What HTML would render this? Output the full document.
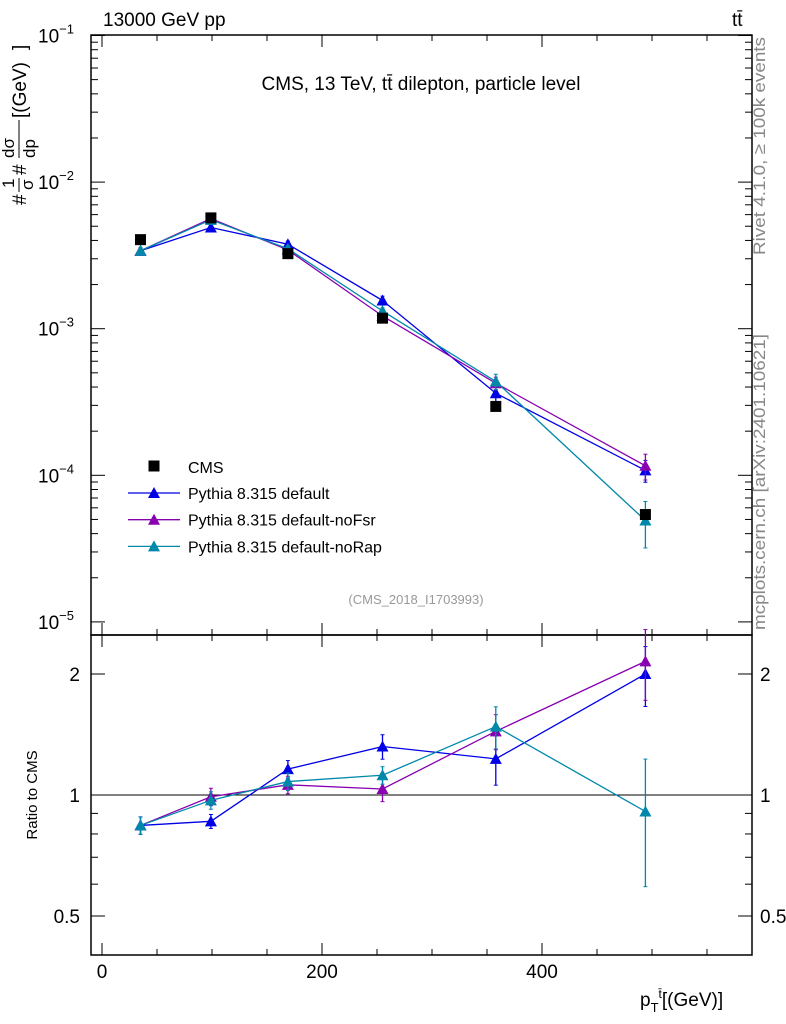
<!DOCTYPE html>
<html><head><meta charset="utf-8"><style>
body{margin:0;background:#fff;}
svg{font-family:"Liberation Sans",sans-serif;display:block}
</style></head><body>
<svg id="c" width="786" height="1024"></svg>
<script>
const xCenters=[35,99,169,255,358,494];
const cmsVals=[4.05e-3,5.7e-3,3.25e-3,1.18e-3,2.95e-4,5.4e-5];
const ratioDefault=[0.84,0.86,1.16,1.32,1.23,2.0];
const ratioNoFsr=[0.84,0.99,1.06,1.035,1.44,2.15];
const ratioNoRap=[0.84,0.97,1.08,1.12,1.48,0.91];
const errDefault=[0.05,0.04,0.05,0.07,0.14,0.17];
const errNoFsr=[0.05,0.05,0.05,0.07,0.1,0.2];
const errNoRap=[0.05,0.05,0.05,0.05,0.12,0.35];
const xTicks=[0,200,400];
const yTicks=[-1,-2,-3,-4,-5];
const rTicks=[0.5,1,2];
const NS="http://www.w3.org/2000/svg";
const svg=document.getElementById('c');
function el(t,a,p){const e=document.createElementNS(NS,t);for(const k in a)e.setAttribute(k,a[k]);(p||svg).appendChild(e);return e;}
const L=91,R=752,T=35,M=635,B=955;
const X=v=>102+v*1.1;
const Y=v=>35.5-(Math.log10(v)+1)*146.6;
const YR=r=>795-Math.log2(r)*121;
let f=el('rect',{x:L,y:T,width:R-L,height:M-T,fill:'none',stroke:'#000','stroke-width':1.5});

f=el('rect',{x:L,y:M,width:R-L,height:B-M,fill:'none',stroke:'#000','stroke-width':1.5});

for(let v=0;v<=550;v+=50){const x=X(v);const big=v%200==0;const l=big?12:6;
 for(const [y0,d] of [[M,-1],[T,1],[B,-1],[M,1]]){el('line',{x1:x,x2:x,y1:y0,y2:y0+d*l,stroke:'#000'});}}
xTicks.forEach(v=>{const t=el('text',{x:X(v),y:978,'font-size':19,'text-anchor':'middle'});t.textContent=v;
 });
for(let d=-5;d<-1+0.01;d++){for(let m=1;m<10;m++){const v=m*Math.pow(10,d);if(v>0.1+1e-9)break;const y=Y(v);const l=m==1?14:7;
 el('line',{x1:L,x2:L+l,y1:y,y2:y,stroke:'#000'});el('line',{x1:R,x2:R-l,y1:y,y2:y,stroke:'#000'});}}
yTicks.forEach(d=>{const y=Y(Math.pow(10,d));const t=el('text',{x:38,y:y+7,'font-size':19});
 t.innerHTML='10<tspan dy="-9" font-size="13">'+(d<0?'\u2212':'')+Math.abs(d)+'</tspan>';
 });
[0.5,0.6,0.7,0.8,0.9,1,2].forEach(r=>{const y=YR(r);const l=(r==0.5||r==1||r==2)?14:7;
 el('line',{x1:L,x2:L+l,y1:y,y2:y,stroke:'#000'});el('line',{x1:R,x2:R-l,y1:y,y2:y,stroke:'#000'});});
rTicks.forEach(r=>{for(const x of [80,760]){const t=el('text',{x:x,y:YR(r)+7,'font-size':19,'text-anchor':x<100?'end':'start'});t.textContent=r;
 }});
el('line',{x1:L,x2:R,y1:YR(1),y2:YR(1),stroke:'#000'});
function txt(s,a,name){const t=el('text',a);t.innerHTML=s;return t;}
txt('13000 GeV pp',{x:103,y:26,'font-size':19},'header-left');
txt('tt\u0304',{x:732,y:26,'font-size':19},'header-right');
txt('CMS, 13 TeV, tt\u0304 dilepton, particle level',{x:421,y:90,'font-size':19,'text-anchor':'middle'},'plot-title');
txt('(CMS_2018_I1703993)',{x:416,y:604,'font-size':13,fill:'#999','text-anchor':'middle'},'analysis-id');
txt('Rivet 4.1.0, \u2265 100k events',{x:0,y:0,'font-size':17,fill:'#888',textLength:218,lengthAdjust:'spacingAndGlyphs',transform:'translate(765,255) rotate(-90)'},'rivet-label');
txt('mcplots.cern.ch [arXiv:2401.10621]',{x:0,y:0,'font-size':17,fill:'#888',textLength:296,lengthAdjust:'spacingAndGlyphs',transform:'translate(765,630) rotate(-90)'},'mcplots-label');
txt('Ratio to CMS',{x:0,y:0,'font-size':15,'text-anchor':'middle',transform:'translate(37,795) rotate(-90)'},'ratio-y-title');
const yt=el('g',{transform:'translate(0,0)'});
el('text',{x:0,y:0,'font-size':19,transform:'translate(26,205) rotate(-90)'},yt).textContent='#';
el('text',{x:0,y:0,'font-size':17,transform:'translate(14,188) rotate(-90)'},yt).textContent='1';
el('line',{x1:19,x2:19,y1:178,y2:192,stroke:'#000'},yt);
el('text',{x:0,y:0,'font-size':17,transform:'translate(33,190) rotate(-90)'},yt).textContent='σ';
el('text',{x:0,y:0,'font-size':19,transform:'translate(26,175) rotate(-90)'},yt).textContent='#';
el('text',{x:0,y:0,'font-size':17,transform:'translate(14,158) rotate(-90)'},yt).textContent='dσ';
el('line',{x1:19,x2:19,y1:120,y2:158,stroke:'#000'},yt);
el('text',{x:0,y:0,'font-size':17,transform:'translate(35,158) rotate(-90)'},yt).textContent='dp';
el('text',{x:0,y:0,'font-size':19,transform:'translate(26,118) rotate(-90)'},yt).textContent='[(GeV)';
el('text',{x:0,y:0,'font-size':19,transform:'translate(26,50) rotate(-90)'},yt).textContent=']';
txt('p<tspan dy="6" font-size="13">T</tspan><tspan dy="-14" font-size="12">t\u0304</tspan><tspan dy="8">[(GeV)]</tspan>',{x:640,y:1006,'font-size':19},'x-axis-title');
const series=[
 {name:'Pythia 8.315 default',r:ratioDefault,e:errDefault,c:'#0000e6',id:'default'},
 {name:'Pythia 8.315 default-noFsr',r:ratioNoFsr,e:errNoFsr,c:'#8800b0',id:'nofsr'},
 {name:'Pythia 8.315 default-noRap',r:ratioNoRap,e:errNoRap,c:'#0088aa',id:'norap'}];
function tri(x,y,c,name){const p=el('polygon',{points:`${x},${y-6} ${x-6},${y+5} ${x+6},${y+5}`,fill:c});
 }
series.forEach(s=>{
 const mv=s.r.map((r,i)=>r*cmsVals[i]);
 const pl=el('polyline',{points:xCenters.map((x,i)=>X(x)+','+Y(mv[i])).join(' '),fill:'none',stroke:s.c,'stroke-width':1.3});
 
 const pr=el('polyline',{points:xCenters.map((x,i)=>X(x)+','+YR(s.r[i])).join(' '),fill:'none',stroke:s.c,'stroke-width':1.3});
 
 xCenters.forEach((x,i)=>{const px=X(x);
  const e=s.e[i];
  for(const [fy,v] of [[Y,mv[i]],[YR,s.r[i]]]){
   const y1=fy(v*(1+e)),y2=fy(v*(1-e));
   el('line',{x1:px,x2:px,y1:y1,y2:y2,stroke:s.c,'stroke-width':1.3});
   el('line',{x1:px-2,x2:px+2,y1:y1,y2:y1,stroke:s.c});el('line',{x1:px-2,x2:px+2,y1:y2,y2:y2,stroke:s.c});
   tri(px,fy(v),s.c,'marker-'+s.id);}
 });
});
xCenters.forEach((x,i)=>{const r=el('rect',{x:X(x)-5.5,y:Y(cmsVals[i])-5.5,width:11,height:11,fill:'#000'});
 });
const lg=el('g',{});
el('rect',{x:148.5,y:460.5,width:11,height:11,fill:'#000'},lg);
txt('CMS',{x:188,y:473,'font-size':16},'legend-entry');
series.forEach((s,k)=>{const y=493+k*26.7;
 el('line',{x1:128,x2:180,y1:y,y2:y,stroke:s.c,'stroke-width':1.3},lg);tri(154,y,s.c,'legend-marker');
 txt(s.name,{x:188,y:y+6,'font-size':16},'legend-entry');});
</script>
</body></html>
